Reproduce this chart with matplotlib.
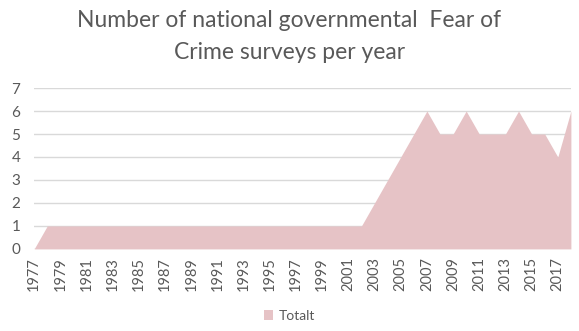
import matplotlib.pyplot as plt
import numpy as np

years = list(range(1977, 2019))
totalt = [0] + [1] * 25 + [2, 3, 4, 5, 6, 5, 5, 6, 5, 5, 5, 6, 5, 5, 4, 6]
tick_years = list(range(1977, 2018, 2))

plt.rcParams['font.family'] = ['Lato', 'DejaVu Sans']
gray = '#595959'
fill = '#e6c3c6'

fig = plt.figure(figsize=(5.79, 3.31), dpi=100)
ax = fig.add_axes([0.059, 0.248, 0.927, 0.486])

ax.fill_between(years, totalt, 0, color=fill, linewidth=0, label='Totalt', zorder=2)
ax.set_xlim(years[0], years[-1])
ax.set_ylim(0, 7)
ax.set_yticks(range(0, 8))
ax.set_xticks(tick_years)
ax.set_xticklabels([str(y) for y in tick_years], rotation=90)
ax.tick_params(colors=gray, labelsize=10.5, length=0, pad=6)
ax.tick_params(axis='y', labelsize=11, pad=10)
ax.grid(axis='y', color='#d9d9d9', linewidth=1, zorder=0)
for s in ax.spines.values():
    s.set_visible(False)

fig.suptitle('Number of national governmental  Fear of\nCrime surveys per year',
             y=0.97, fontsize=16.5, color=gray, linespacing=1.65)
fig.legend(loc='lower center', bbox_to_anchor=(0.5, -0.01), frameon=False,
           fontsize=10, labelcolor=gray, handlelength=0.7, handleheight=0.7,
           handletextpad=0.4)

fig.savefig('out.png', dpi=100)
